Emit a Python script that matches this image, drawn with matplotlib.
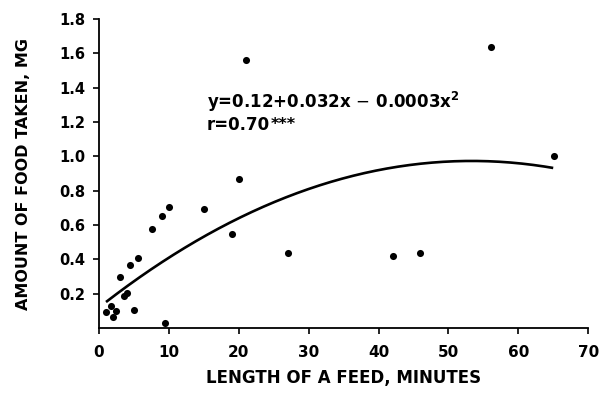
import numpy as np
import matplotlib
matplotlib.use("Agg")
import matplotlib.pyplot as plt

# Data
feed_minutes = [1.0, 1.7, 2.0, 2.4, 3.0, 3.6, 4.0, 4.4, 5.0, 5.6, 7.6, 9.0, 9.4,
                10.0, 15.0, 19.0, 20.1, 21.1, 27.1, 42.0, 46.0, 56.1, 65.1]
food_mg = [0.095, 0.128, 0.066, 0.099, 0.30, 0.187, 0.206, 0.369, 0.105, 0.406,
           0.579, 0.653, 0.027, 0.704, 0.692, 0.548, 0.866, 1.56, 0.435, 0.42,
           0.44, 1.64, 1.005]

# Fitted curve coefficients y = a + b x + c x^2
coef_a, coef_b, coef_c = 0.12, 0.032, -0.0003
fit_range = [1.0, 65.0]

x_ticks = [0, 10, 20, 30, 40, 50, 60, 70]
x_ticklabels = ["0", "10", "20", "30", "40", "50", "60", "70"]
y_ticks = [0.2, 0.4, 0.6, 0.8, 1.0, 1.2, 1.4, 1.6, 1.8]
y_ticklabels = ["0.2", "0.4", "0.6", "0.8", "1.0", "1.2", "1.4", "1.6", "1.8"]

fig = plt.figure(figsize=(6.02, 4.05), dpi=100)
ax = fig.add_axes([0.1645, 0.19, 0.8125, 0.763])

ax.scatter(feed_minutes, food_mg, s=26, color="black", zorder=3, linewidths=0)

xf = np.linspace(fit_range[0], fit_range[1], 200)
yf = coef_a + coef_b * xf + coef_c * xf ** 2
ax.plot(xf, yf, color="black", lw=1.9, solid_capstyle="butt")

ax.set_xlim(0, 70)
ax.set_ylim(0, 1.8)
ax.spines["top"].set_visible(False)
ax.spines["right"].set_visible(False)
for s in ("left", "bottom"):
    ax.spines[s].set_linewidth(1.3)

ax.set_xticks(x_ticks)
ax.set_xticklabels(x_ticklabels, fontweight="bold", fontsize=11)
ax.set_yticks(y_ticks)
ax.set_yticklabels(y_ticklabels, fontweight="bold", fontsize=10.5)
ax.tick_params(axis="both", direction="out", length=4, width=1.2, pad=8)
ax.tick_params(axis="y", pad=6)

ax.set_xlabel("LENGTH OF A FEED, MINUTES", fontweight="bold", fontsize=12, labelpad=7)
ax.set_ylabel("AMOUNT OF FOOD TAKEN, MG", fontweight="bold", fontsize=11.5, labelpad=20)

ax.text(15.4, 1.318, r"y=0.12+0.032x $-$ 0.0003x$^{\mathbf{2}}$", fontweight="bold",
        fontsize=12, va="center", ha="left")
t_r = ax.text(15.4, 1.18, "r=0.70", fontweight="bold",
              fontsize=12, va="center", ha="left")
ax.annotate("***", xy=(1.0, 0.0), xycoords=t_r, xytext=(0.5, 1.5),
            textcoords="offset points", fontweight="bold",
            fontsize=11.5, va="bottom", ha="left")

fig.savefig("out.png", dpi=100)
